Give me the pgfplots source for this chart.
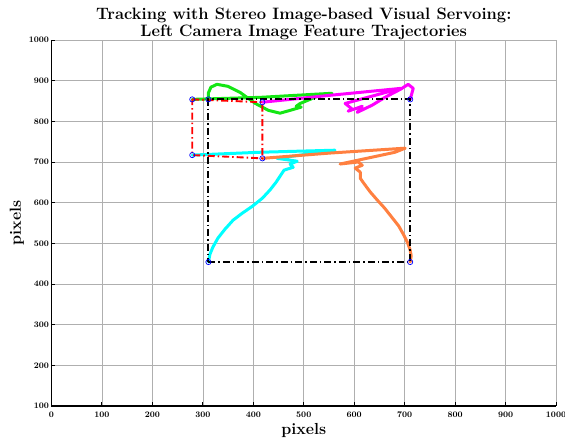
\documentclass[border=0pt]{standalone}
\usepackage{pgfplots}
\pgfplotsset{compat=1.18}
\definecolor{trgreen}{RGB}{20,230,20}
\definecolor{trmag}{RGB}{255,0,255}
\definecolor{trcyan}{RGB}{0,255,255}
\definecolor{trorange}{RGB}{255,128,64}
\definecolor{gridgray}{RGB}{175,175,175}
\begin{document}
\begin{tikzpicture}
\begin{axis}[
  scale only axis,
  width=504.5pt, height=366pt,
  xmin=0, xmax=1000, ymin=100, ymax=1000,
  xtick={0,100,...,1000}, ytick={100,200,...,1000},
  axis x line=bottom, axis y line=left,
  axis line style={-, line width=1.1pt, black},
  tick align=inside,
  major tick length=4pt,
  tick style={black, line width=0.9pt},
  grid=major,
  major grid style={gridgray, line width=0.7pt},
  /pgf/number format/assume math mode=true,
  /pgf/number format/set thousands separator={},
  tick label style={font=\fontsize{8.5}{9}\selectfont\bfseries},
  xticklabel style={yshift=-2pt},
  yticklabel style={xshift=1pt},
  xlabel={pixels}, ylabel={pixels},
  label style={font=\fontsize{16}{18}\selectfont\bfseries},
  xlabel style={yshift=1pt},
  ylabel style={yshift=-2pt},
  title={Tracking with Stereo Image-based Visual Servoing:\\Left Camera Image Feature Trajectories},
  title style={align=center, font=\fontsize{16.5}{17}\selectfont\bfseries, yshift=-9pt},
  clip=false,
]
% trajectories
\addplot[trgreen, line width=3pt, line join=round, line cap=round] coordinates {
(279,854) (414,859) (556,869) (532,864) (493,844) (485,837) (495,835)
(473,827) (453,820) (430,827) (404,844) (374,871) (350,886) (328,891)
(316,884) (311,870) (311,854)};
\addplot[trmag, line width=3pt, line join=round, line cap=round] coordinates {
(418,847) (552,864) (692,881) (582,844) (596,830) (588,825) (616,837)
(606,822) (636,840) (661,859) (692,879) (707,891) (717,881) (711,854)};
\addplot[trcyan, line width=3pt, line join=round, line cap=round] coordinates {
(279,717) (414,724) (562,729) (533,724) (447,709) (487,702) (473,695)
(479,687) (461,680) (453,665) (445,650) (433,631) (418,611) (398,591)
(378,574) (360,557) (344,535) (330,513) (320,491) (314,473) (311,454)};
\addplot[trorange, line width=3pt, line join=round, line cap=round] coordinates {
(418,709) (552,722) (701,734) (681,724) (572,695) (608,700) (616,692)
(602,685) (612,675) (612,660) (620,646) (632,626) (646,606) (660,587)
(674,565) (688,543) (698,521) (706,501) (711,483) (713,469) (711,454)};
% initial (red) and desired (black) feature sets
\addplot[red, line width=1.9pt, dash pattern=on 7pt off 3pt on 1.5pt off 3pt] coordinates {
(279,854) (418,847) (418,709) (279,717) (279,854)};
\addplot[black, line width=1.9pt, dash pattern=on 7pt off 3pt on 1.5pt off 3pt] coordinates {
(311,454) (711,454) (711,854) (311,854) (311,454)};
% start / end markers
\addplot[only marks, mark=o, blue, mark size=2.6pt, mark options={line width=0.7pt}] coordinates {
(279,854) (418,847) (279,717) (418,709) (311,854) (711,854) (311,454) (711,454)};
\end{axis}
\pgfresetboundingbox
\path[use as bounding box] ([xshift=-51.5pt,yshift=-33pt]current axis.south west) rectangle ([xshift=9pt,yshift=40pt]current axis.north east);
\end{tikzpicture}
\end{document}
